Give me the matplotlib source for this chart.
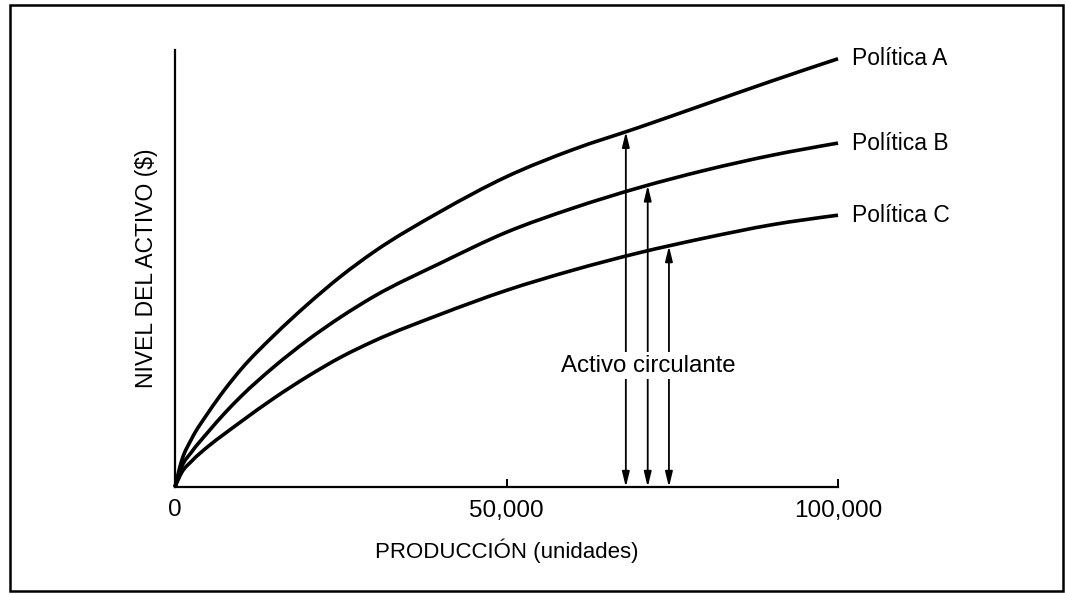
import numpy as np
import matplotlib
matplotlib.use("Agg")
import matplotlib.pyplot as plt
from matplotlib import font_manager
from matplotlib.patches import Rectangle, PathPatch
from matplotlib.path import Path

# ---- data (y in arbitrary units, axis top = 100) ----
produccion = [0, 1000, 2500, 5000, 7500, 10000, 15000, 20000, 25000, 30000, 40000,
              50000, 60000, 70000, 80000, 90000, 100000]
politica_a = [0, 6.0, 11.0, 17.0, 22.3, 27.0, 34.8, 41.8, 48.2, 53.8, 63.0,
              71.0, 77.2, 82.3, 87.6, 92.9, 98.0]
politica_b = [0, 4.6, 8.0, 12.6, 16.9, 20.8, 27.6, 33.6, 38.9, 43.6, 51.2,
              58.3, 63.8, 68.5, 72.5, 75.9, 78.7]
politica_c = [0, 3.3, 5.9, 9.3, 12.2, 15.0, 20.4, 25.3, 29.7, 33.4, 39.5,
              45.0, 49.6, 53.6, 57.0, 60.0, 62.2]
series_names = ["Política A", "Política B", "Política C"]
arrow_x = [68000, 71300, 74500]
x_ticks = [0, 50000, 100000]
x_tick_labels = ["0", "50,000", "100,000"]
x_title = "PRODUCCIÓN (unidades)"
y_title = "NIVEL DEL ACTIVO ($)"
arrow_text = "Activo circulante"

# ---- font ----
available = {f.name for f in font_manager.fontManager.ttflist}
fam = [f for f in ["Liberation Sans Narrow", "Liberation Sans", "DejaVu Sans"] if f in available]
plt.rcParams['font.family'] = fam

W, H = 1065, 595
fig = plt.figure(figsize=(W / 100, H / 100), dpi=100)
fig.patch.set_facecolor("white")

x0, x1, y0, y1 = 175, 838, 50, 487
ax = fig.add_axes([x0 / W, 1 - y1 / H, (x1 - x0) / W, (y1 - y0) / H])
ax.set_xlim(0, 100000)
ax.set_ylim(0, 100)


def smooth_path(xs, ys):
    """Cubic Hermite Bezier path through the data points (non-uniform spacing)."""
    xs = np.asarray(xs, float)
    ys = np.asarray(ys, float)
    n = len(xs)
    h = np.diff(xs)
    d = np.diff(ys) / h
    m = np.empty(n)
    for i in range(1, n - 1):
        m[i] = (h[i - 1] * d[i] + h[i] * d[i - 1]) / (h[i - 1] + h[i])
    m[0] = 1.5 * d[0] - 0.5 * m[1]
    m[-1] = 1.5 * d[-1] - 0.5 * m[-2]
    verts = [(xs[0], ys[0])]
    codes = [Path.MOVETO]
    for i in range(n - 1):
        c1 = (xs[i] + h[i] / 3, ys[i] + m[i] * h[i] / 3)
        c2 = (xs[i + 1] - h[i] / 3, ys[i + 1] - m[i + 1] * h[i] / 3)
        verts += [c1, c2, (xs[i + 1], ys[i + 1])]
        codes += [Path.CURVE4] * 3
    return Path(verts, codes)


series = [politica_a, politica_b, politica_c]
for vals in series:
    ax.add_patch(PathPatch(smooth_path(produccion, vals), facecolor="none",
                           edgecolor="black", lw=2.6, capstyle="butt",
                           joinstyle="round", clip_on=False))

for name, vals in zip(series_names, series):
    ax.annotate(name, xy=(produccion[-1], vals[-1]), xytext=(10, 0),
                textcoords="offset points", fontsize=16.5, va="center", ha="left")

# arrows
for xa, vals in zip(arrow_x, series):
    top = float(np.interp(xa, produccion, vals))
    ax.annotate("", xy=(xa, top), xytext=(xa, 0),
                arrowprops=dict(arrowstyle="<|-|>,head_length=0.9,head_width=0.22",
                                color="black", lw=1.3, shrinkA=0, shrinkB=0))

ax.text(np.mean(arrow_x) + 100, 27.8, arrow_text, fontsize=17.3, ha="center", va="center",
        bbox=dict(facecolor="white", edgecolor="none", pad=1.5))

for s in ["top", "right"]:
    ax.spines[s].set_visible(False)
for s in ["left", "bottom"]:
    ax.spines[s].set_linewidth(1.6)

ax.set_yticks([])
ax.set_xticks(x_ticks)
ax.set_xticklabels(x_tick_labels, fontsize=17.5)
ax.tick_params(axis="x", direction="in", length=6, width=1.4, pad=9)

ax.set_xlabel(x_title, fontsize=16, labelpad=12)
ax.set_ylabel(y_title, fontsize=16.5, labelpad=12)

# frame around figure
fig.patches.append(Rectangle((10 / W, 1 - 591 / H), 1053 / W, 586 / H,
                             transform=fig.transFigure, fill=False,
                             edgecolor="black", lw=1.8))

fig.savefig("out.png", dpi=100)
